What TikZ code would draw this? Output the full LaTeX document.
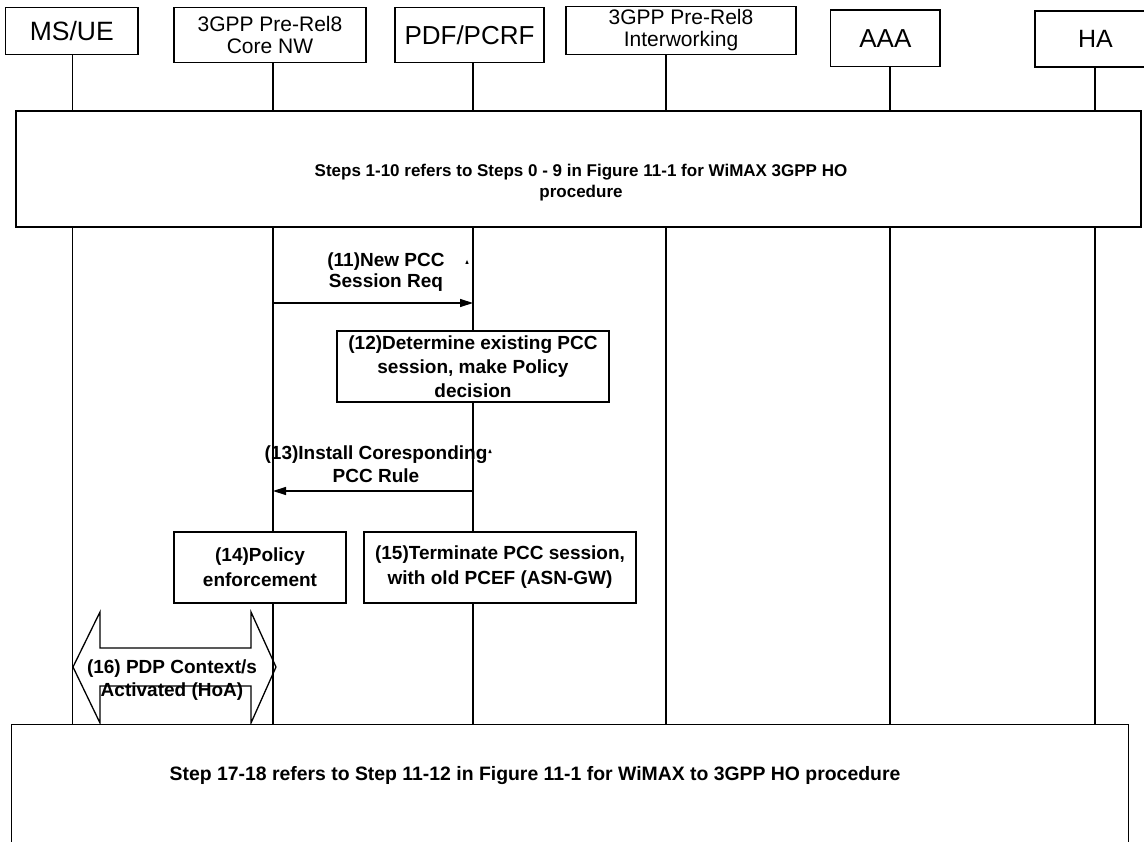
\documentclass[tikz,border=0pt]{standalone}
\usepackage{fontspec}
\setmainfont{Liberation Sans}
\usetikzlibrary{arrows.meta,positioning}

\tikzstyle{seq_style}=[x=1pt,y=-1pt,line width=1.3pt,
  entity/.style={rectangle,draw,fill=white,inner sep=0pt,align=center},
  frame/.style={rectangle,draw,fill=white,inner sep=0pt},
  stepbox/.style={rectangle,draw,fill=white,inner sep=0pt,align=center,font=\bfseries\fontsize{19}{25}\selectfont},
  msglabel/.style={align=center,inner sep=0pt,font=\bfseries\fontsize{19}{23}\selectfont},
  note/.style={align=center,inner sep=0pt,font=\bfseries\fontsize{17}{21}\selectfont},
  msg/.style={-{Triangle[length=13pt,width=8pt]}},]

\begin{document}
\begin{tikzpicture}[seq_style]
    \useasboundingbox (0,0) rectangle (1144,842);
    \clip (0,0) rectangle (1144,842);

    % Draw the entity boxes along the top
    \foreach \name/\x/\y/\w/\h/\fs/\txt in {
        1/71.8/30.7/132.5/47/26.5/{MS/UE},
        2/270/35/192/55.4/21/{3GPP Pre-Rel8\\Core NW},
        3/469.5/35/149/55.4/26/{PDF/PCRF},
        4/681/30.3/230/47.8/21/{3GPP Pre-Rel8\\Interworking},
        5/885.4/38.2/109.3/56.3/26/{AAA},
        6/1095.5/39/121/56/25/{HA}}
        \node[entity, minimum width=\w, minimum height=\h, font=\fontsize{\fs}{22}\selectfont]
            (E-\name) at (\x,\y) {\txt};

    % Draw the lifelines down to the closing frame
    \foreach \name/\x in {1/72.7,2/273,3/473,4/666,5/890,6/1095} {
        \coordinate (L-\name) at (\x,724);
        \draw (E-\name.south -| L-\name) -- (L-\name);
    }

    % Frame for steps 1-10
    \node[frame, minimum width=1125, minimum height=116] (F-top) at (578.5,169) {};
    \node[note] (F-top-txt) at (581,182.5)
        {Steps 1-10 refers to Steps 0 - 9 in Figure 11-1 for WiMAX 3GPP HO\\procedure};

    % Step 11: session request
    \coordinate (M11-a) at (273,303);
    \coordinate (M11-b) at (473,303);
    \draw[msg] (M11-a) -- (M11-b);
    \node[msglabel, font=\bfseries\fontsize{19}{21}\selectfont] (T-11) at (386,272) {(11)New PCC\\Session Req};
    \fill (467,260) -- (465.3,264) -- (468.7,264) -- cycle;

    % Step 12: policy decision
    \node[stepbox, minimum width=272, minimum height=71, font=\bfseries\fontsize{19}{24}\selectfont] (B-12) at (473,366.5)
        {(12)Determine existing PCC\\session, make Policy\\decision};

    % Step 13: install rule
    \coordinate (M13-a) at (473,491);
    \coordinate (M13-b) at (273,491);
    \draw[msg] (M13-a) -- (M13-b);
    \node[msglabel] (T-13) at (376,464.5) {(13)Install Coresponding\\PCC Rule};
    \fill (490,449) -- (488.3,453) -- (491.7,453) -- cycle;

    % Steps 14 and 15
    \node[stepbox, minimum width=172, minimum height=71] (B-14) at (260,567.5)
        {(14)Policy\\enforcement};
    \node[stepbox, minimum width=272, minimum height=71] (B-15) at (500,567.5)
        {(15)Terminate PCC session,\\with old PCEF (ASN-GW)};

    % Step 16: double arrow between MS/UE and core
    \draw (73,667) -- (100,612) -- (100,648) -- (251,648) -- (251,612) -- (276,667)
        -- (251,723) -- (251,686) -- (100,686) -- (100,723) -- cycle;
    \node[msglabel] (T-16) at (172,680.5) {(16) PDP Context/s\\Activated (HoA)};

    % Frame for steps 17-18
    \node[frame, minimum width=1117, minimum height=140, anchor=north west] (F-bot) at (11,724) {};
    \node[msglabel, font=\bfseries\fontsize{19.4}{23}\selectfont] (F-bot-txt) at (535,776)
        {Step 17-18 refers to Step 11-12 in Figure 11-1 for WiMAX to 3GPP HO procedure};

\end{tikzpicture}
\end{document}
